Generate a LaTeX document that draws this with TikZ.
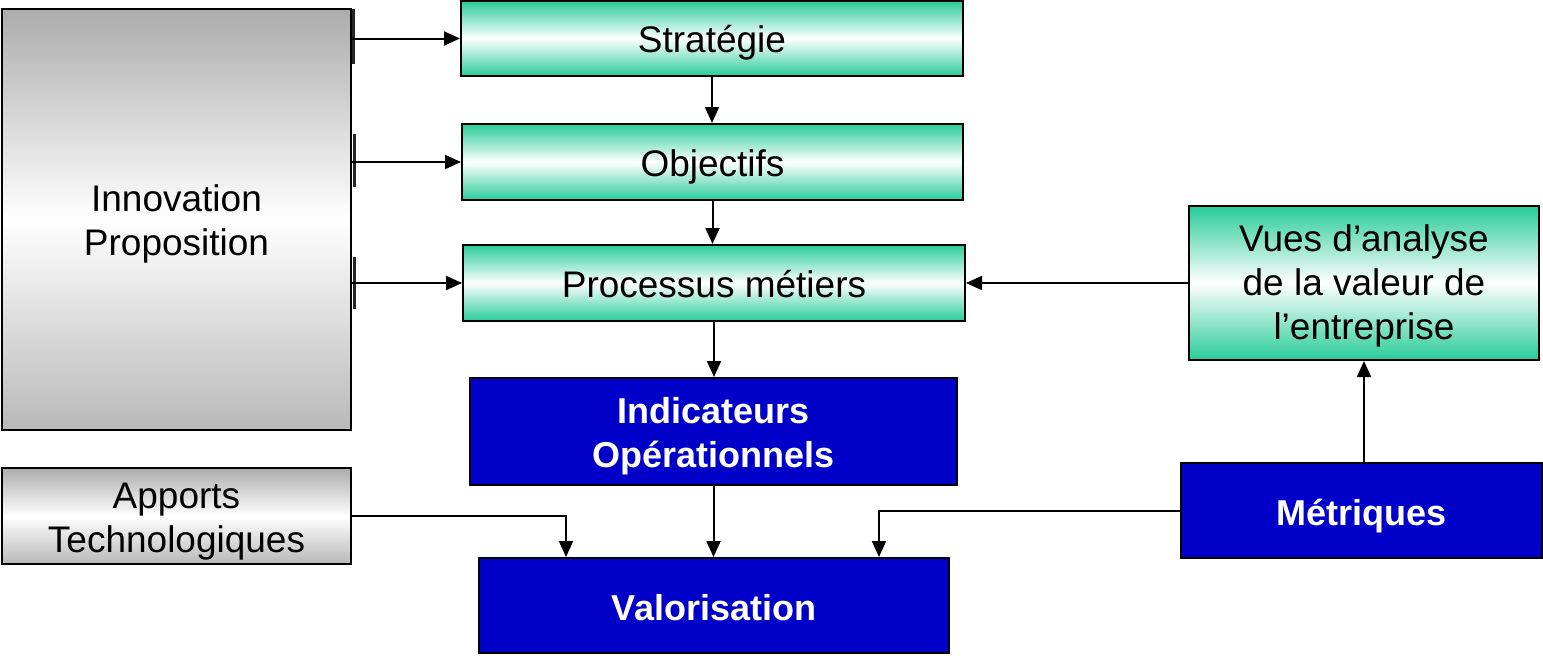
\documentclass[tikz,border=0pt]{standalone}
\usepackage{fontspec}
\setmainfont{Liberation Sans}
\usetikzlibrary{arrows.meta}

\definecolor{boxgreen}{RGB}{40,204,152}
\definecolor{boxgray}{RGB}{172,172,172}
\definecolor{boxblue}{RGB}{0,0,200}

% centred lines of text, set a little below the middle of their box
\newcommand\boxtext[2][4pt]{\raisebox{-#1}[\height][\depth]{\begin{tabular}{@{}c@{}}#2\end{tabular}}}

\tikzset{
  base/.style={draw=black, line width=2pt, inner sep=0pt, align=center,
    font=\fontsize{37}{44}\selectfont},
  greenbox/.style={base, top color=boxgreen, bottom color=boxgreen, middle color=white},
  graybox/.style={base, top color=boxgray, bottom color=boxgray!85, middle color=white},
  bluebox/.style={base, fill=boxblue, text=white, font=\fontsize{36}{44}\selectfont\bfseries},
  arr/.style={draw=black, line width=2pt, -{Triangle[length=16pt,width=14pt]}},
  tick/.style={draw=black!85, line width=3pt}
}

\begin{document}
\begin{tikzpicture}[x=1pt,y=-1pt]
\useasboundingbox (0,0) rectangle (1543,656);

% left column
\node[graybox, minimum width=349pt, minimum height=421pt] (innov) at (176.5,219.5)
  {\boxtext[5pt]{Innovation\\Proposition}};
\node[graybox, minimum width=349pt, minimum height=96pt] (apports) at (176.5,516)
  {\boxtext[6pt]{Apports\\Technologiques}};

% central chain
\node[greenbox, minimum width=502pt, minimum height=75pt] (strat) at (712,38.5) {\boxtext[5pt]{Stratégie}};
\node[greenbox, minimum width=501pt, minimum height=76pt] (obj) at (712.5,162) {\boxtext[6pt]{Objectifs}};
\node[greenbox, minimum width=502pt, minimum height=76pt] (proc) at (714,283) {\boxtext[6pt]{Processus métiers}};
\node[bluebox, minimum width=487pt, minimum height=107pt] (ind) at (713.5,431.5)
  {\boxtext[5pt]{Indicateurs\\Opérationnels}};
\node[bluebox, minimum width=470pt, minimum height=95pt] (val) at (714,605.5) {\boxtext[6pt]{Valorisation}};

% right column
\node[greenbox, minimum width=350pt, minimum height=154pt] (vues) at (1364,283)
  {\boxtext[4pt]{Vues d’analyse\\de la valeur de\\l’entreprise}};
\node[bluebox, minimum width=361pt, minimum height=95pt] (metr) at (1361.5,510.5) {\boxtext[6pt]{Métriques}};

% attachment marks on the right edge of the innovation block
\draw[tick] ([xshift=1pt,yshift=-1pt]innov.north east) -- ++(0,55);
\draw[tick] ([xshift=2pt,yshift=-126pt]innov.north east) -- ++(0,53);
\draw[tick] ([xshift=2pt,yshift=-249pt]innov.north east) -- ++(0,52);

% connectors
\draw[arr] (strat.west -| innov.east) -- (strat.west);
\draw[arr] (obj.west -| innov.east) -- (obj.west);
\draw[arr] (proc.west -| innov.east) -- (proc.west);

\draw[arr] (strat.south) -- (strat.south |- obj.north);
\draw[arr] (obj.south) -- (obj.south |- proc.north);
\draw[arr] (proc.south) -- (proc.south |- ind.north);
\draw[arr] (ind.south) -- (ind.south |- val.north);

\draw[arr] (apports.east) -| ([xshift=88pt]val.north west);
\draw[arr] (metr.west) -| ([xshift=-71pt]val.north east);
\draw[arr] (vues.south |- metr.north) -- (vues.south);
\draw[arr] (vues.west) -- (vues.west -| proc.east);
\end{tikzpicture}
\end{document}
